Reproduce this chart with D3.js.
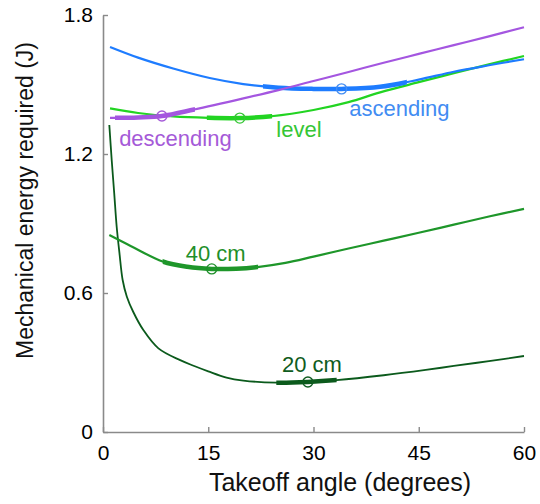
<!DOCTYPE html>
<html>
<head>
<meta charset="utf-8">
<script src="https://d3js.org/d3.v7.min.js"></script>
<style>
  body { margin: 0; background: #fff; }
  svg text { font-family: "Liberation Sans", Arial, Helvetica, sans-serif; }
</style>
</head>
<body>
<div id="chart"></div>
<script>
// takeoff angle (degrees) and mechanical energy (J) for each curve
const ascAngle = [1, 5, 10, 15.2, 20, 25, 30, 34, 39.5, 45, 50, 55, 60];
const ascEnergy = [1.662, 1.616, 1.569, 1.528, 1.502, 1.486, 1.481, 1.481, 1.49, 1.521, 1.555, 1.583, 1.609];

const levAngle = [1, 5, 10, 15, 19.5, 24, 30, 35, 39.5, 45, 50, 55, 60];
const levEnergy = [1.397, 1.377, 1.362, 1.356, 1.355, 1.363, 1.39, 1.424, 1.466, 1.51, 1.549, 1.587, 1.623];

const descAngle = [1, 5, 8.4, 13, 20, 25, 30, 35, 40, 45, 50, 55, 60];
const descEnergy = [1.356, 1.358, 1.364, 1.392, 1.44, 1.476, 1.515, 1.554, 1.594, 1.632, 1.67, 1.708, 1.747];

const cm40Angle = [0.9, 4, 8.5, 12, 15.5, 19, 22, 26, 30, 35, 40, 45, 50, 55, 60];
const cm40Energy = [0.85, 0.802, 0.736, 0.713, 0.704, 0.705, 0.712, 0.73, 0.757, 0.792, 0.826, 0.86, 0.895, 0.93, 0.963];

const cm20Angle = [0.9, 1.25, 1.6, 1.95, 2.35, 2.8, 3.4, 4.3, 5.75, 7.9, 11, 13, 15, 17.6, 20, 24.7, 29.2, 33.3, 40, 46, 50, 55, 60];
const cm20Energy = [1.325, 1.17, 1.03, 0.886, 0.771, 0.656, 0.584, 0.519, 0.44, 0.361, 0.31, 0.285, 0.262, 0.235, 0.222, 0.213, 0.216, 0.224, 0.245, 0.268, 0.285, 0.306, 0.328];

const curveNames = ["20 cm", "40 cm", "level", "ascending", "descending"];
// optimum angle (circle) and the thick range around it
const optAngle = [29.2, 15.5, 19.5, 34, 8.4];
const rangeLo = [24.7, 8.5, 14.8, 22.8, 1.7];
const rangeHi = [33.3, 22.1, 24.1, 43.3, 13.1];

const xTicks = [0, 15, 30, 45, 60];
const yTicks = [0, 0.6, 1.2, 1.8];
const yTickLabels = ["0", "0.6", "1.2", "1.8"];

const W = 540, H = 504;
const margin = {top: 15, right: 16, bottom: 72, left: 103};

const x = d3.scaleLinear().domain([0, 60]).range([margin.left, W - margin.right]);
const y = d3.scaleLinear().domain([0, 1.8]).range([H - margin.bottom, margin.top]);

const svg = d3.select("#chart").append("svg")
    .attr("width", W).attr("height", H);

// styles per curve (same order as curveNames)
const lineColor = ["#0b5a1c", "#1e962a", "#22d422", "#1e7cff", "#a456e0"];
const labelColor = ["#0f5c20", "#1f8f2a", "#35c635", "#428cf2", "#a55ad8"];
const thinWidth = [1.8, 2.2, 2.2, 2.2, 2.2];
// label placement in data units [angle, energy]
const labelPos = [[25.5, 0.259], [11.8, 0.737], [24.7, 1.273], [35.1, 1.364], [2.3, 1.234]];

const series = [
  {a: cm20Angle, e: cm20Energy},
  {a: cm40Angle, e: cm40Energy},
  {a: levAngle, e: levEnergy},
  {a: ascAngle, e: ascEnergy},
  {a: descAngle, e: descEnergy}
].map((s, i) => ({
  name: curveNames[i],
  pts: s.a.map((a, j) => [a, s.e[j]]),
  opt: optAngle[i], lo: rangeLo[i], hi: rangeHi[i], idx: i
}));

function energyAt(pts, a) {
  for (let j = 1; j < pts.length; j++) {
    if (a <= pts[j][0]) {
      const t = (a - pts[j-1][0]) / (pts[j][0] - pts[j-1][0]);
      return pts[j-1][1] + t * (pts[j][1] - pts[j-1][1]);
    }
  }
  return pts[pts.length - 1][1];
}

// axes
const xAxis = d3.axisBottom(x).tickValues(xTicks).tickSizeInner(-5).tickSizeOuter(0).tickPadding(13);
const yAxis = d3.axisLeft(y).tickValues(yTicks).tickSizeInner(-5).tickSizeOuter(0).tickPadding(10)
    .tickFormat((d, i) => yTickLabels[i]);

const gx = svg.append("g").attr("transform", `translate(0,${y(0)})`).call(xAxis);
const gy = svg.append("g").attr("transform", `translate(${x(0)},0)`).call(yAxis);
[gx, gy].forEach(g => {
  g.select(".domain").attr("stroke", "#8a8a8a").attr("stroke-width", 1.6);
  g.selectAll(".tick line").attr("stroke", "#8a8a8a").attr("stroke-width", 1.4);
  g.selectAll(".tick text").attr("fill", "#000").style("font-size", "21px");
});

svg.append("text")
    .attr("x", 340).attr("y", 491)
    .attr("text-anchor", "middle")
    .style("font-size", "25px").attr("fill", "#111")
    .text("Takeoff angle (degrees)");

svg.append("text")
    .attr("transform", `translate(33,${(margin.top + y(0)) / 2 - 23}) rotate(-90)`)
    .attr("text-anchor", "middle")
    .style("font-size", "23px").attr("fill", "#111")
    .text("Mechanical energy required (J)");

const line = d3.line()
    .x(d => x(d[0])).y(d => y(d[1]))
    .curve(d3.curveCatmullRom.alpha(0.5));

const defs = svg.append("defs");
series.forEach(s => {
  defs.append("clipPath").attr("id", "clip" + s.idx)
    .append("rect")
    .attr("x", x(s.lo)).attr("y", 0)
    .attr("width", x(s.hi) - x(s.lo)).attr("height", H);
});

const g = svg.selectAll(".curve").data(series).join("g").attr("class", "curve");

g.append("path")
    .attr("d", d => line(d.pts))
    .attr("fill", "none")
    .attr("stroke", d => lineColor[d.idx])
    .attr("stroke-width", d => thinWidth[d.idx]);

g.append("path")
    .attr("d", d => line(d.pts))
    .attr("clip-path", d => `url(#clip${d.idx})`)
    .attr("fill", "none")
    .attr("stroke", d => lineColor[d.idx])
    .attr("stroke-width", 4.5);

g.append("circle")
    .attr("cx", d => x(d.opt))
    .attr("cy", d => y(energyAt(d.pts, d.opt)))
    .attr("r", 5)
    .attr("fill", "none")
    .attr("stroke", d => labelColor[d.idx])
    .attr("stroke-width", 1.4);

g.append("text")
    .attr("x", d => x(labelPos[d.idx][0]))
    .attr("y", d => y(labelPos[d.idx][1]))
    .style("font-size", "22px")
    .attr("fill", d => labelColor[d.idx])
    .text(d => d.name);
</script>
</body>
</html>
